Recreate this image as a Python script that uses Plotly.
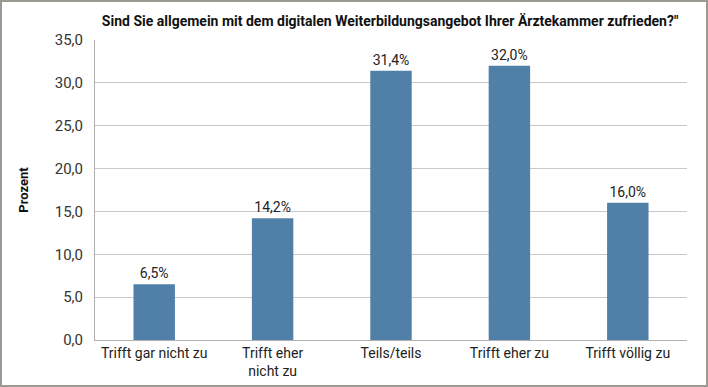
import plotly.graph_objects as go

categories = ["Trifft gar nicht zu", "Trifft eher<br>nicht zu", "Teils/teils", "Trifft eher zu", "Trifft völlig zu"]
values = [6.5, 14.2, 31.4, 32.0, 16.0]
value_labels = ["6,5%", "14,2%", "31,4%", "32,0%", "16,0%"]
tick_vals = [0, 5, 10, 15, 20, 25, 30, 35]

FONT = "Roboto, sans-serif"

fig = go.Figure()
fig.add_trace(go.Bar(
    x=categories, y=values,
    text=value_labels, textposition="outside",
    textfont=dict(size=14, color="#222"),
    marker=dict(color="#5080a8", line=dict(width=0)),
    width=0.35, cliponaxis=False,
))

fig.update_layout(
    width=708, height=387,
    separators=",.",
    paper_bgcolor="white", plot_bgcolor="white",
    margin=dict(l=95, r=21, t=40, b=47),
    font=dict(family=FONT, color="#222", size=14),
    title=dict(text="<b>Sind Sie allgemein mit dem digitalen Weiterbildungsangebot Ihrer Ärztekammer zufrieden?\"</b>",
               x=0.551, xanchor="center", y=0.945, yanchor="middle", font=dict(size=14, color="#111")),
    showlegend=False,
)
fig.update_yaxes(
    range=[0, 35], tickvals=tick_vals, tickformat=".1f",
    showgrid=True, gridcolor="#c8c8c8", gridwidth=1,
    showline=True, linecolor="#b0b0b0", linewidth=1,
    ticks="", ticklabelstandoff=8, zeroline=False, automargin=False,
    tickfont=dict(size=15, color="#333"),
    title=dict(text="<b>Prozent</b>", font=dict(size=13, color="#111"), standoff=23),
)
fig.update_xaxes(
    showline=True, linecolor="#b0b0b0", linewidth=1, automargin=False,
    ticks="", tickfont=dict(size=14, color="#222"),
)
fig.add_shape(type="rect", xref="paper", yref="paper",
              x0=-94/592, x1=1+20/592, y0=-46/300, y1=1+39/300,
              line=dict(color="#9a9a92", width=2))

fig.write_html("out.html", config={"displayModeBar": False},
               post_script="document.body.style.margin='0';")
